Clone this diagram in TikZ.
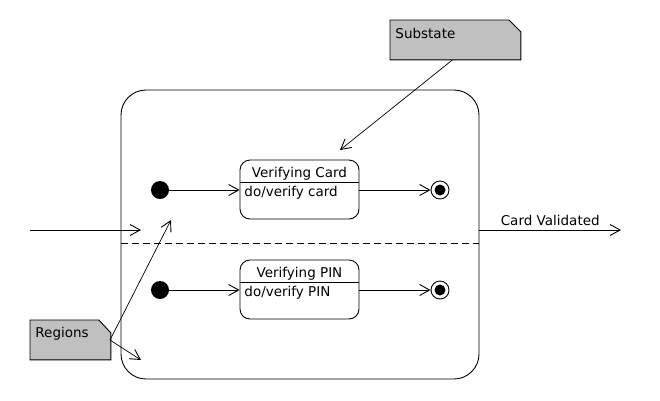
\documentclass[tikz,border=0pt]{standalone}
\usepackage{fontspec}
\setmainfont{DejaVu Sans}
\usetikzlibrary{arrows.meta}
\definecolor{notegray}{HTML}{C0C0C0}
\begin{document}
\begin{tikzpicture}[x=1pt,y=-1pt,
  font=\fontsize{13.5}{15}\selectfont,
  line width=0.9pt,
  arr/.style={-{Straight Barb[length=10pt,width=11pt,line width=0.9pt]}},
  dot/.style={circle,fill=black,minimum size=18pt,inner sep=0pt},
  finalst/.style={circle,draw,fill=white,minimum size=18pt,inner sep=0pt},
  statebox/.style={draw,rounded corners=10pt,minimum width=119pt,minimum height=59pt,inner sep=0pt},
  notebox/.style={inner sep=0pt},
  notefill/.style={fill=notegray,draw=black},
]
\useasboundingbox (0,0) rectangle (660,400);
\fill[white] (0,0) rectangle (660,400);

% composite state
\node[draw,rounded corners=25pt,minimum width=358pt,minimum height=289pt,inner sep=0pt] (comp) at (300,234.5) {};
\draw[dash pattern=on 7pt off 4pt] (comp.west |- 0,243) -- (comp.east |- 0,243);

% upper region
\node[dot] (i1) at (160,190) {};
\node[statebox] (s1) at (299.5,189.5) {};
\draw (s1.west |- 0,182) -- (s1.east |- 0,182);
\node[anchor=base,inner sep=0pt] (t1) at (299.5,177) {Verifying Card};
\node[anchor=base west,inner sep=0pt] (a1) at (244,196) {do/verify card};
\node[finalst] (f1) at (440,190) {};
\fill (f1.center) circle (5.5pt);
\draw[arr] (i1) -- (s1.west |- i1);
\draw[arr] (s1.east |- f1) -- (f1);

% lower region
\node[dot] (i2) at (160,290) {};
\node[statebox] (s2) at (299.5,289.5) {};
\draw (s2.west |- 0,282) -- (s2.east |- 0,282);
\node[anchor=base,inner sep=0pt] (t2) at (299.5,277) {Verifying PIN};
\node[anchor=base west,inner sep=0pt] (a2) at (244,296) {do/verify PIN};
\node[finalst] (f2) at (440,290) {};
\fill (f2.center) circle (5.5pt);
\draw[arr] (i2) -- (s2.west |- i2);
\draw[arr] (s2.east |- f2) -- (f2);

% incoming / outgoing
\coordinate (inA) at (30,230);
\coordinate (inB) at (141,230);
\draw[arr] (inA) -- (inB);
\coordinate (outB) at (621,230);
\draw[arr] (comp.east |- outB) -- (outB)
  node[midway,anchor=base,yshift=5pt,inner sep=0pt] (lbl) {Card Validated};

% Substate note
\node[notebox,anchor=north west,minimum width=130pt,minimum height=39pt] (n1) at (390,20) {};
\draw[notefill] (n1.north west) -- ([xshift=-12pt]n1.north east) -- ([yshift=-12pt]n1.north east)
  -- (n1.south east) -- (n1.south west) -- cycle;
\node[anchor=base west,inner sep=0pt] (n1t) at (395,38) {Substate};
\coordinate (subT) at (340,150);
\draw[arr,line width=0.7pt] ([xshift=-3pt]n1.south) -- (subT);

% Regions note
\node[notebox,anchor=north west,minimum width=80pt,minimum height=39pt] (n2) at (30,320) {};
\draw[notefill] (n2.north west) -- ([xshift=-12pt]n2.north east) -- ([yshift=-13pt]n2.north east)
  -- (n2.south east) -- (n2.south west) -- cycle;
\node[anchor=base west,inner sep=0pt] (n2t) at (35,337) {Regions};
\coordinate (n2p) at (110,340);
\coordinate (regA) at (171,220);
\coordinate (regB) at (141,360);
\draw[arr,line width=0.7pt] (n2p) -- (regA);
\draw[arr,line width=0.7pt] (n2p) -- (regB);
\end{tikzpicture}
\end{document}
